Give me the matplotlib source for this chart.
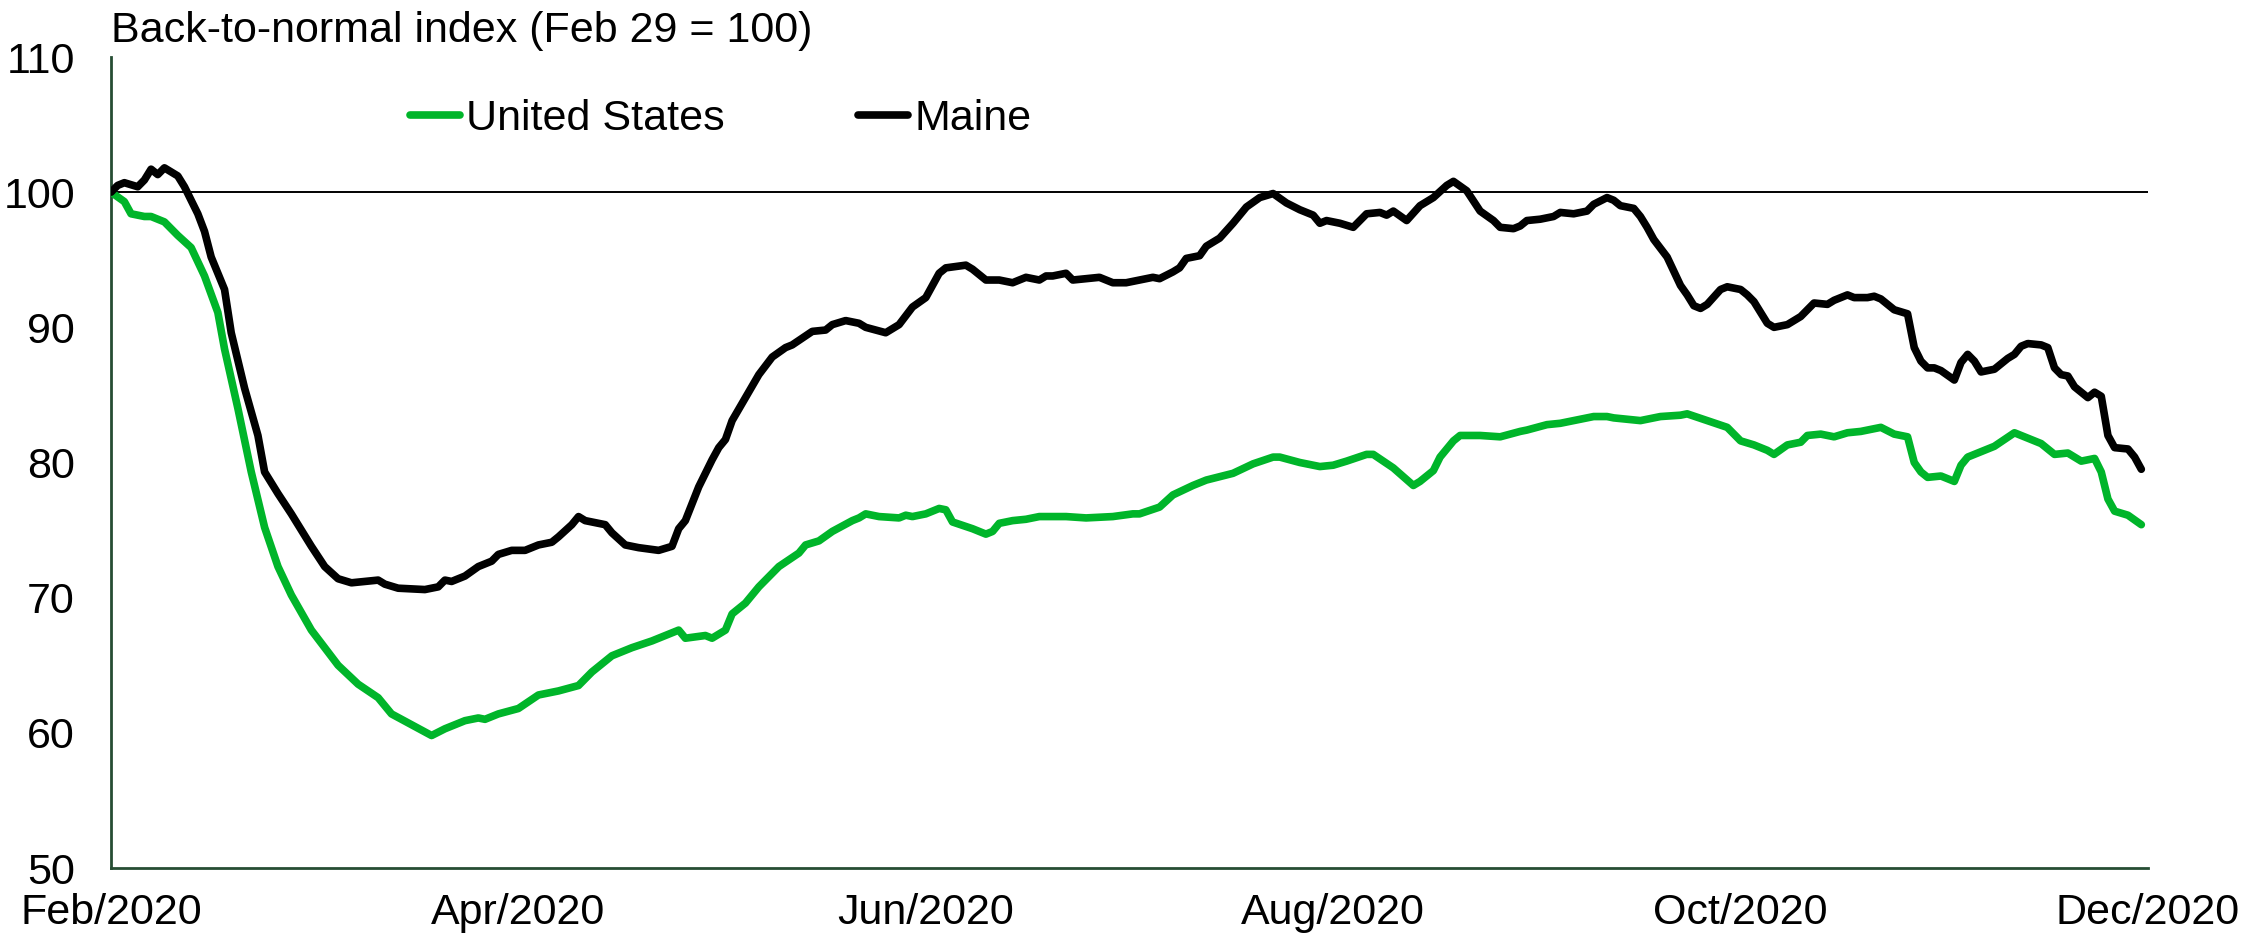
import matplotlib
matplotlib.use("Agg")
import matplotlib.pyplot as plt

plt.rcParams['font.family'] = ['Liberation Sans', 'DejaVu Sans']

# Days since Feb 29, 2020 and index values
us_days = [0, 2, 3, 5, 6, 8, 10, 12, 14, 16, 17, 19, 21, 23, 25, 27, 30, 34, 37, 40,
           42, 45, 48, 50, 51, 53, 55, 56, 58, 61, 64, 67, 70, 72, 75, 78, 81, 84, 85, 86,
           89, 90, 92, 93, 95, 97, 99, 100, 103, 104, 106, 108, 111, 112, 113, 115, 118, 119, 120, 122,
           124, 125, 126, 129, 131, 132, 133, 135, 137, 139, 143, 146, 150, 153, 154, 157, 159, 162, 164, 168,
           171, 174, 175, 178, 181, 183, 185, 188, 189, 192, 195, 196, 198, 199, 201, 202, 205, 208, 211, 212,
           215, 217, 219, 222, 224, 225, 227, 229, 232, 235, 236, 239, 242, 244, 246, 248, 249, 251, 253, 254,
           256, 258, 260, 262, 265, 267, 269, 270, 271, 272, 274, 276, 277, 278, 280, 282, 285, 286, 289, 291,
           293, 295, 297, 298, 299, 300, 302, 304]
us_vals = [100, 99.3, 98.4, 98.2, 98.2, 97.8, 96.8, 95.9, 93.8, 91.1, 88.4, 84.0, 79.3, 75.2, 72.3, 70.2, 67.6, 65.0, 63.6, 62.6,
           61.4, 60.6, 59.8, 60.3, 60.5, 60.9, 61.1, 61.0, 61.4, 61.8, 62.8, 63.1, 63.5, 64.5, 65.7, 66.3, 66.8, 67.4, 67.6, 67.0,
           67.2, 67.0, 67.6, 68.8, 69.6, 70.8, 71.8, 72.3, 73.3, 73.9, 74.2, 74.9, 75.7, 75.9, 76.2, 76.0, 75.9, 76.1, 76.0, 76.2,
           76.6, 76.5, 75.6, 75.1, 74.7, 74.9, 75.5, 75.7, 75.8, 76.0, 76.0, 75.9, 76.0, 76.2, 76.2, 76.7, 77.6, 78.3, 78.7, 79.2,
           79.9, 80.4, 80.4, 80.0, 79.7, 79.8, 80.1, 80.6, 80.6, 79.6, 78.3, 78.6, 79.4, 80.4, 81.6, 82.0, 82.0, 81.9, 82.3, 82.4,
           82.8, 82.9, 83.1, 83.4, 83.4, 83.3, 83.2, 83.1, 83.4, 83.5, 83.6, 83.1, 82.6, 81.6, 81.3, 80.9, 80.6, 81.3, 81.5, 82.0,
           82.1, 81.9, 82.2, 82.3, 82.6, 82.1, 81.9, 80.0, 79.3, 78.9, 79.0, 78.6, 79.8, 80.4, 80.8, 81.2, 82.2, 82.0, 81.4, 80.6,
           80.7, 80.1, 80.3, 79.3, 77.3, 76.4, 76.1, 75.4]

me_days = [0, 1, 2, 4, 5, 6, 7, 8, 10, 11, 13, 14, 15, 17, 18, 20, 22, 23, 25, 27,
           28, 30, 32, 34, 36, 40, 41, 43, 47, 49, 50, 51, 53, 55, 57, 58, 60, 62, 64, 66,
           67, 69, 70, 71, 74, 75, 77, 79, 82, 84, 85, 86, 88, 90, 91, 92, 93, 95, 97, 99,
           101, 102, 105, 107, 108, 110, 112, 113, 116, 118, 120, 122, 124, 125, 128, 129, 131, 133, 135, 137,
           139, 140, 141, 143, 144, 146, 148, 150, 152, 154, 156, 157, 159, 160, 161, 163, 164, 166, 168, 170,
           172, 174, 176, 178, 180, 181, 182, 184, 186, 188, 190, 191, 192, 194, 196, 198, 200, 201, 203, 205,
           207, 208, 210, 211, 212, 214, 216, 217, 219, 221, 222, 224, 225, 226, 228, 229, 230, 231, 233, 235,
           236, 237, 238, 239, 241, 242, 244, 245, 246, 248, 249, 251, 252, 253, 254, 255, 257, 258, 260, 261,
           263, 264, 265, 267, 269, 270, 271, 272, 273, 274, 276, 277, 278, 279, 280, 282, 284, 285, 286, 287,
           289, 290, 291, 292, 293, 294, 296, 297, 298, 299, 300, 302, 303, 304]
me_vals = [100, 100.5, 100.7, 100.4, 100.9, 101.7, 101.3, 101.8, 101.2, 100.4, 98.4, 97.1, 95.2, 92.8, 89.6, 85.5, 82.0, 79.3, 77.7, 76.2,
           75.4, 73.8, 72.3, 71.4, 71.1, 71.3, 71.0, 70.7, 70.6, 70.8, 71.3, 71.2, 71.6, 72.3, 72.7, 73.2, 73.5, 73.5, 73.9, 74.1,
           74.5, 75.4, 76.0, 75.7, 75.4, 74.8, 73.9, 73.7, 73.5, 73.8, 75.1, 75.7, 78.2, 80.2, 81.1, 81.7, 83.1, 84.8, 86.5, 87.8,
           88.5, 88.7, 89.7, 89.8, 90.2, 90.5, 90.3, 90.0, 89.6, 90.2, 91.5, 92.2, 94.0, 94.4, 94.6, 94.3, 93.5, 93.5, 93.3, 93.7,
           93.5, 93.8, 93.8, 94.0, 93.5, 93.6, 93.7, 93.3, 93.3, 93.5, 93.7, 93.6, 94.1, 94.4, 95.1, 95.3, 96.0, 96.6, 97.7, 98.9,
           99.6, 99.9, 99.2, 98.7, 98.3, 97.7, 97.9, 97.7, 97.4, 98.4, 98.5, 98.3, 98.6, 97.9, 99.0, 99.6, 100.5, 100.8, 100.1, 98.6,
           97.9, 97.4, 97.3, 97.5, 97.9, 98.0, 98.2, 98.5, 98.4, 98.6, 99.1, 99.6, 99.4, 99.0, 98.8, 98.2, 97.4, 96.5, 95.2, 93.1,
           92.4, 91.6, 91.4, 91.7, 92.8, 93.0, 92.8, 92.4, 91.9, 90.3, 90.0, 90.2, 90.5, 90.8, 91.3, 91.8, 91.7, 92.0, 92.4, 92.2,
           92.2, 92.3, 92.1, 91.3, 91.0, 88.5, 87.5, 87.0, 87.0, 86.8, 86.1, 87.4, 88.0, 87.5, 86.7, 86.9, 87.7, 88.0, 88.6, 88.8,
           88.7, 88.5, 87.0, 86.5, 86.4, 85.6, 84.8, 85.2, 84.9, 82.0, 81.1, 81.0, 80.4, 79.5]

tick_days = [0, 61, 122, 183, 244, 305]
tick_labels = ['Feb/2020', 'Apr/2020', 'Jun/2020', 'Aug/2020', 'Oct/2020', 'Dec/2020']
y_ticks = [50, 60, 70, 80, 90, 100, 110]

green = '#00b52a'
spine_col = '#264d33'
fs = 31

fig = plt.figure(figsize=(22.41, 9.43), dpi=100)
ax = fig.add_axes([111 / 2241, 1 - 868 / 943, (2148 - 111) / 2241, (868 - 57) / 943])

# reference line at 100
ax.axhline(100, color='black', lw=1.4, zorder=1)

ax.plot(us_days, us_vals, color=green, lw=5.5, label='United States', zorder=3,
        solid_joinstyle='round', solid_capstyle='round')
ax.plot(me_days, me_vals, color='black', lw=5.5, label='Maine', zorder=4,
        solid_joinstyle='round', solid_capstyle='round')

ax.set_xlim(0, 305)
ax.set_ylim(50, 110)
ax.set_xticks(tick_days)
ax.set_xticklabels(tick_labels)
ax.set_yticks(y_ticks)
ax.tick_params(axis='both', length=0, labelsize=fs)
ax.tick_params(axis='y', pad=26)
ax.tick_params(axis='x', pad=18)

for s in ['top', 'right']:
    ax.spines[s].set_visible(False)
for s in ['left', 'bottom']:
    ax.spines[s].set_color(spine_col)
    ax.spines[s].set_linewidth(2)

# title sits above the axes, left aligned with the y axis
fig.text(111 / 2241, 1 - 42 / 943, 'Back-to-normal index (Feb 29 = 100)',
         fontsize=fs, ha='left', va='baseline')

leg = ax.legend(loc='center left', bbox_to_anchor=(410 / 2241, 1 - 119 / 943),
                bbox_transform=fig.transFigure, ncol=2, frameon=False, fontsize=fs,
                handlelength=1.15, handletextpad=0.15, columnspacing=3.1,
                borderpad=0, borderaxespad=0)

fig.savefig('out.png', dpi=100)
